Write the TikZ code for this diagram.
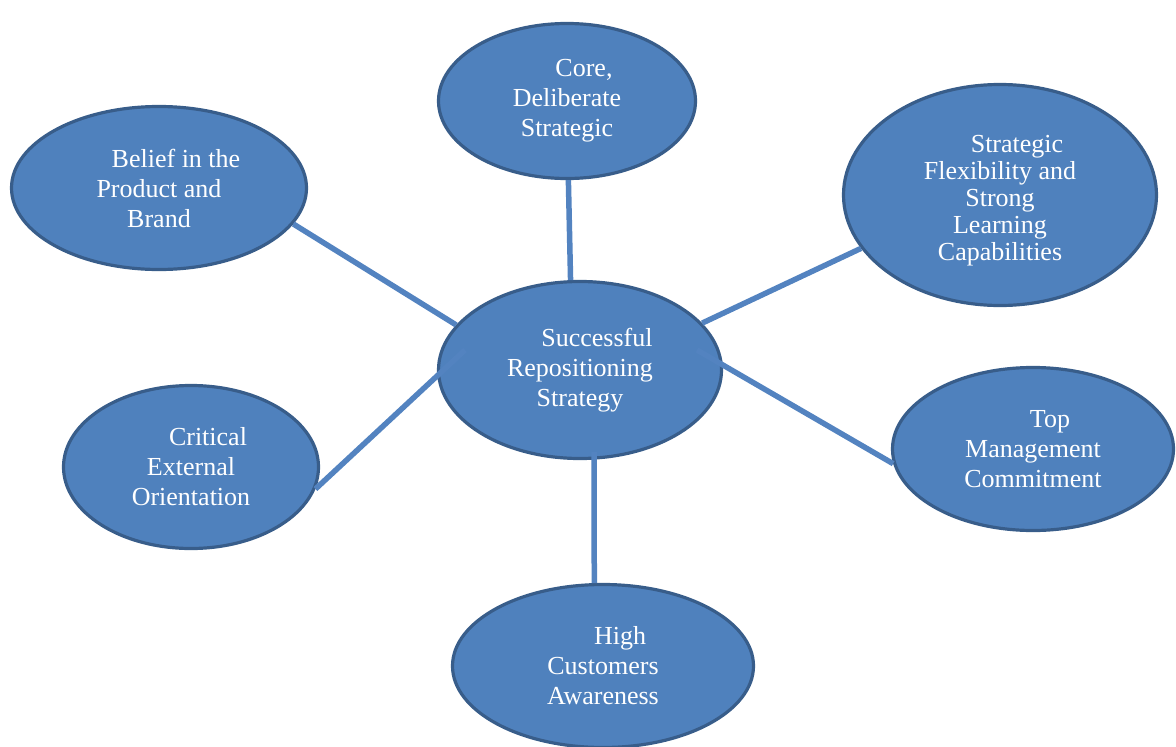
\documentclass[tikz,border=0pt]{standalone}
\usepackage{fontspec}
\setmainfont{Liberation Serif}
\usetikzlibrary{shapes.geometric,calc}
\definecolor{ovfill}{HTML}{4F81BD}
\definecolor{ovborder}{HTML}{385D8A}
\definecolor{linkcol}{HTML}{5383C0}
\tikzset{
  oval/.style={ellipse, draw=ovborder, fill=ovfill, line width=3.2pt, inner sep=0pt,
    text=white, align=center, font=\fontsize{26}{30}\selectfont},
  ovtext/.style={text=white, align=center, inner sep=0pt, font=\fontsize{26}{27}\selectfont},
  link/.style={draw=linkcol, line width=5.5pt}
}
\newcommand{\fl}{\hspace*{34pt}}
\begin{document}
\begin{tikzpicture}[x=1pt,y=-1pt]
\useasboundingbox (0,0) rectangle (1176,747);
\node[oval, minimum width=283pt, minimum height=177pt] (ctr) at (580,370) {\fl Successful\\Repositioning\\Strategy};
\node[oval, minimum width=257pt, minimum height=155pt] (core) at (567,101) {\fl Core,\\Deliberate\\Strategic};
\node[oval, minimum width=295pt, minimum height=163pt] (belief) at (159,188) {\fl Belief in the\\Product and\\Brand};
\node[oval, minimum width=313pt, minimum height=221pt] (flex) at (1000,195) {};
\node[ovtext] (flextxt) at (1000,201) {\fl Strategic\\Flexibility and\\Strong\\Learning\\Capabilities};
\node[oval, minimum width=281pt, minimum height=163pt] (top) at (1033,449) {\fl Top\\Management\\Commitment};
\node[oval, minimum width=255pt, minimum height=163pt] (crit) at (191,467) {\fl Critical\\External\\Orientation};
\node[oval, minimum width=301pt, minimum height=163pt] (high) at (603,666) {\fl High\\Customers\\Awareness};
\coordinate (cinL) at ($(ctr.center)+(-115,-20)$);
\coordinate (cinR) at ($(ctr.center)+(117,-20)$);
\coordinate (cinB) at ($(ctr.center)+(14,82)$);
\draw[link] (core.-89) -- (ctr.96);
\draw[link] (belief.-15) -- (ctr.160);
\draw[link] (flex.201.7) -- (ctr.21.8);
\draw[link] (cinR) -- (top.186);
\draw[link] (crit.-10.5) -- (cinL);
\draw[link] (cinB) -- (high.96);
\end{tikzpicture}
\end{document}
